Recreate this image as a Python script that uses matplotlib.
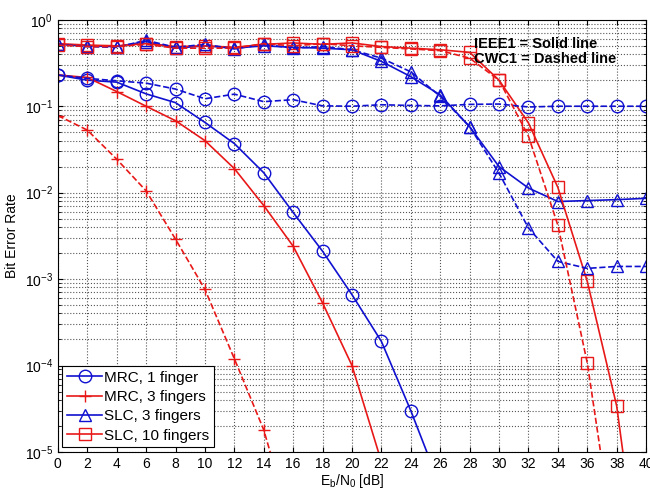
import numpy as np
import matplotlib.pyplot as plt
from matplotlib.ticker import LogLocator, NullFormatter

plt.rcParams['font.family'] = ['Liberation Sans', 'DejaVu Sans']
plt.rcParams['mathtext.fontset'] = 'custom'
plt.rcParams['mathtext.rm'] = 'Liberation Sans'

ebno = np.arange(0, 41, 2)

# IEEE1 (solid)
mrc1_ieee = [0.23, 0.20, 0.19, 0.139, 0.11, 0.065, 0.037, 0.017, 0.0059, 0.0021, 6.6e-4,
             1.9e-4, 3.0e-5, 4e-6]
mrc3_ieee = [0.23, 0.215, 0.148, 0.10, 0.068, 0.040, 0.019, 0.0071, 0.0024, 5.3e-4, 1.0e-4,
             7.7e-6]
slc3_ieee = [0.52, 0.50, 0.49, 0.56, 0.47, 0.50, 0.47, 0.50, 0.48, 0.47, 0.45,
             0.33, 0.22, 0.135, 0.058, 0.020, 0.0113, 0.0079, 0.0081, 0.0083, 0.0086]
slc10_ieee = [0.53, 0.51, 0.50, 0.53, 0.49, 0.50, 0.48, 0.52, 0.54, 0.52, 0.54,
              0.49, 0.47, 0.45, 0.42, 0.20, 0.064, 0.0115, 9.4e-4, 3.4e-5, 1e-7]

# CWC1 (dashed)
mrc1_cwc = [0.23, 0.21, 0.197, 0.185, 0.158, 0.122, 0.138, 0.113, 0.119, 0.101, 0.10,
            0.104, 0.102, 0.101, 0.105, 0.106, 0.098, 0.10, 0.10, 0.10, 0.10]
mrc3_cwc = [0.078, 0.053, 0.0244, 0.0105, 0.0029, 7.6e-4, 1.2e-4, 1.8e-5, 1.2e-6]
slc3_cwc = [0.52, 0.49, 0.48, 0.58, 0.48, 0.52, 0.46, 0.52, 0.47, 0.49, 0.45,
            0.36, 0.25, 0.13, 0.058, 0.0168, 0.0039, 0.0016, 0.00133, 0.0014, 0.0014]
slc10_cwc = [0.51, 0.49, 0.49, 0.52, 0.47, 0.47, 0.47, 0.53, 0.50, 0.53, 0.50,
             0.48, 0.46, 0.44, 0.36, 0.20, 0.045, 0.0042, 1.07e-4, 5.6e-7]

blue = '#1010d0'
red = '#e81818'

fig = plt.figure(figsize=(6.5, 4.95), dpi=100)
ax = fig.add_axes([0.089, 0.087, 0.905, 0.873])

ms = 9
lw = 1.2
kw = dict(markerfacecolor='none', markersize=ms, linewidth=lw, markeredgewidth=1.0)

ax.semilogy(ebno[:len(mrc1_ieee)], mrc1_ieee, '-o', color=blue, label='MRC, 1 finger', **kw)
ax.semilogy(ebno[:len(mrc3_ieee)], mrc3_ieee, '-+', color=red, label='MRC, 3 fingers', **kw)
ax.semilogy(ebno[:len(slc3_ieee)], slc3_ieee, '-^', color=blue, label='SLC, 3 fingers', **kw)
ax.semilogy(ebno[:len(slc10_ieee)], slc10_ieee, '-s', color=red, label='SLC, 10 fingers', **kw)

ax.semilogy(ebno[:len(mrc1_cwc)], mrc1_cwc, '--o', color=blue, **kw)
ax.semilogy(ebno[:len(mrc3_cwc)], mrc3_cwc, '--+', color=red, **kw)
ax.semilogy(ebno[:len(slc3_cwc)], slc3_cwc, '--^', color=blue, **kw)
ax.semilogy(ebno[:len(slc10_cwc)], slc10_cwc, '--s', color=red, **kw)

ax.set_xlim(0, 40)
ax.set_ylim(1e-5, 1)
ax.set_xticks(ebno)
ax.yaxis.set_major_locator(LogLocator(base=10, numticks=10))
ax.yaxis.set_minor_locator(LogLocator(base=10, subs=np.arange(2, 10), numticks=10))
ax.yaxis.set_minor_formatter(NullFormatter())
ax.tick_params(which='both', direction='in', top=True, right=True, labelsize=10)
ax.grid(which='major', linestyle=':', color='#555555', linewidth=0.8)
ax.grid(which='minor', axis='y', linestyle=':', color='#555555', linewidth=0.8)

ax.set_xlabel(r'E$_\mathregular{b}$/N$_\mathregular{0}$ [dB]', fontsize=10, labelpad=1)
ax.set_ylabel('Bit Error Rate', fontsize=10, labelpad=4)

ax.text(28.3, 0.52, 'IEEE1 = Solid line', fontsize=10.5, fontweight='bold',
        va='center', ha='left')
ax.text(28.3, 0.35, 'CWC1 = Dashed line', fontsize=10.5, fontweight='bold',
        va='center', ha='left')

leg = ax.legend(loc='lower left', fontsize=11, fancybox=False, edgecolor='black',
                framealpha=1, handlelength=2.3, borderaxespad=0.3, labelspacing=0.35,
                handletextpad=0.15, borderpad=0.3)
leg.get_frame().set_linewidth(0.8)

fig.savefig('out.png', dpi=100)
